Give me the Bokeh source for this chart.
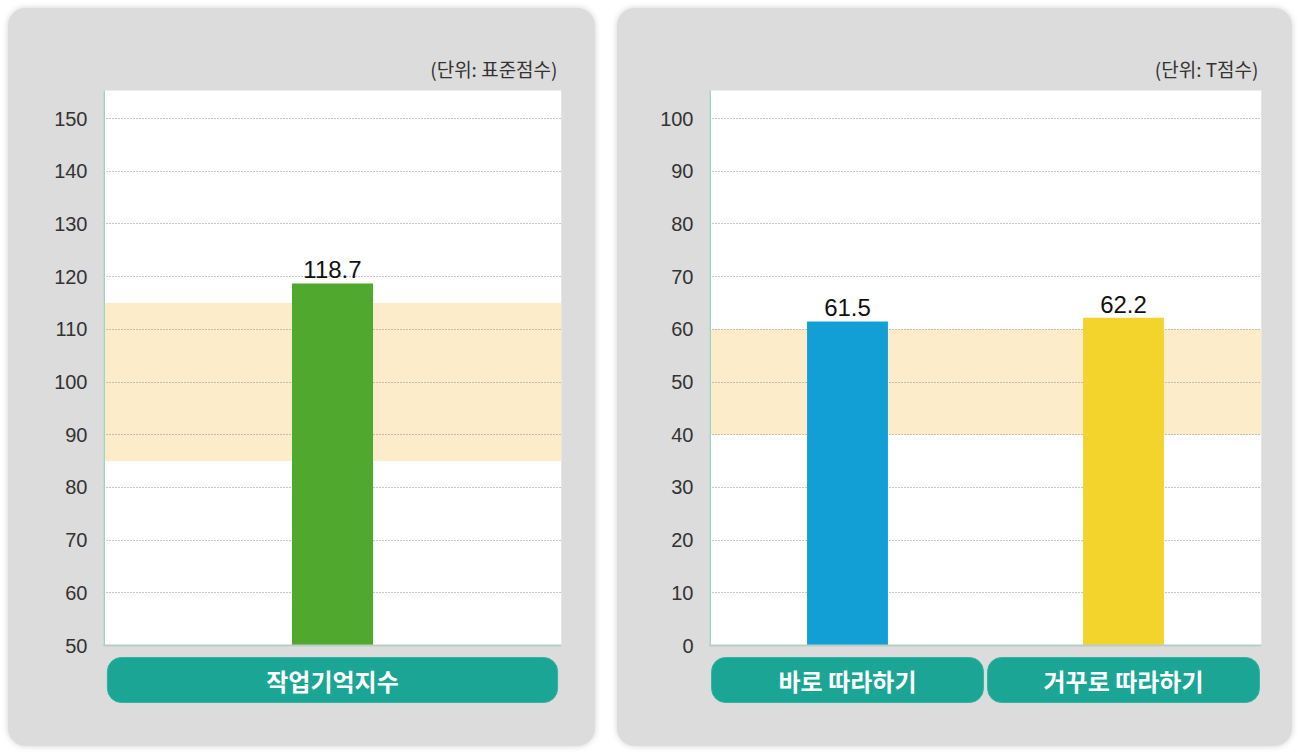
from bokeh.plotting import figure
from bokeh.layouts import row
from bokeh.models import FactorRange, Range1d, FixedTicker, Label
from bokeh.core.properties import value
from bokeh.embed import file_html
from bokeh.resources import INLINE

# ---------------- data ----------------
left_categories = ["작업기억지수"]
left_values = [118.7]
left_ticks = [50, 60, 70, 80, 90, 100, 110, 120, 130, 140, 150]
left_band = [85, 115]
left_unit = "(단위: 표준점수)"

right_categories = ["바로 따라하기", "거꾸로 따라하기"]
right_values = [61.5, 62.2]
right_ticks = [0, 10, 20, 30, 40, 50, 60, 70, 80, 90, 100]
right_band = [40, 60]
right_unit = "(단위: T점수)"

# ---------------- style ----------------
PANEL = "#dcdcdc"
BAND = "#fdecca"
TEAL = "#1aa595"
AXIS_TEAL = "#9fd3c6"
BASE_LINE = "#b7cdc7"
GRID = "#8c8c8c"
NUM_FONT = value("Liberation Sans")
KR_FONT = value("Noto Sans CJK KR")
PX = 5.27  # pixels per unit (both charts)

# page-pixel anchors of the layout (figure spans page y 8..746)
FIG_TOP, FIG_BOTTOM = 8, 746
AREA_TOP, BASE_Y = 90, 645
BOX_TOP, BOX_BOTTOM, BOX_MID = 657, 702, 680
UNIT_Y = 68


def make_panel(cats, vals, colors, ticks, band, unit, width, border_left, border_right,
               bar_width, box_width, unit_inset):
    base = ticks[0]
    n = len(cats)
    y_end = base + (BASE_Y - FIG_TOP) / PX
    y_start = base - (FIG_BOTTOM - BASE_Y) / PX
    area_top = base + (BASE_Y - AREA_TOP) / PX
    p = figure(width=width, height=FIG_BOTTOM - FIG_TOP,
               x_range=FactorRange(factors=cats, range_padding=0),
               y_range=Range1d(y_start, y_end),
               output_backend="svg", toolbar_location=None,
               min_border_left=border_left, min_border_right=border_right,
               min_border_top=0, min_border_bottom=0,
               background_fill_color=None, border_fill_color=None,
               outline_line_color=None,
               styles={"border-radius": "18px", "overflow": "hidden",
                       "background-color": PANEL,
                       "box-shadow": "0 0 6px rgba(0,0,0,0.18)"})

    # white plotting area and reference band
    p.quad(left=[0], right=[n], bottom=[base], top=[area_top], fill_color="white",
           line_color=None, level="image")
    p.quad(left=[0], right=[n], bottom=[band[0]], top=[band[1]], fill_color=BAND,
           line_color=None, level="image")

    # grid
    p.xgrid.visible = False
    p.ygrid.grid_line_color = GRID
    p.ygrid.grid_line_dash = "1 2"
    p.ygrid.grid_line_width = 1

    # axes
    p.xaxis.visible = False
    p.yaxis.ticker = FixedTicker(ticks=ticks)
    p.yaxis.axis_line_color = None
    p.yaxis.major_tick_line_color = None
    p.yaxis.minor_tick_line_color = None
    p.yaxis.major_label_standoff = 10
    p.yaxis.major_label_text_font = "Liberation Sans"
    p.yaxis.major_label_text_font_size = "20px"
    p.yaxis.major_label_text_color = "#333333"

    # bars
    p.vbar(x=cats, top=vals, bottom=base, width=bar_width, fill_color=colors,
           line_color=None)

    # axis lines
    p.segment(x0=[0], y0=[base], x1=[0], y1=[area_top], line_color=AXIS_TEAL, line_width=3)
    p.segment(x0=[0], y0=[base], x1=[n], y1=[base], line_color=BASE_LINE, line_width=2)

    # value labels
    p.text(x=cats, y=vals, text=[f"{v:.1f}" for v in vals], text_align="center",
           text_baseline="bottom", y_offset=-5, text_font=NUM_FONT,
           text_font_size="24px", text_color="#111111")

    # category boxes
    p.vbar(x=cats, top=base - (BOX_TOP - BASE_Y) / PX, bottom=base - (BOX_BOTTOM - BASE_Y) / PX,
           width=box_width, fill_color=TEAL, line_color="#2fb3a3", line_width=1,
           border_radius=14)
    p.text(x=cats, y=base - (BOX_MID - BASE_Y) / PX, text=cats, text_align="center",
           text_baseline="middle", text_font=KR_FONT, text_font_style="bold",
           text_font_size="24px", text_color="white")

    # unit label
    p.add_layout(Label(x=n - unit_inset, y=base + (BASE_Y - UNIT_Y) / PX,
                       text=unit, text_align="right", text_baseline="middle",
                       text_font="Noto Sans CJK KR", text_font_size="19px",
                       text_color="#333333"))
    return p


p1 = make_panel(left_categories, left_values, ["#50a82e"], left_ticks, left_band,
                left_unit, 587, 95, 34, 0.177, 0.983, 4 / 458)
p2 = make_panel(right_categories, right_values, ["#129fd6", "#f3d42c"], right_ticks,
                right_band, right_unit, 675, 92, 31, 0.293, 0.985, 3 / 276)

layout = row(p1, p2, spacing=22, margin=(8, 0, 0, 8))
open("out.html", "w").write(file_html(layout, INLINE))
